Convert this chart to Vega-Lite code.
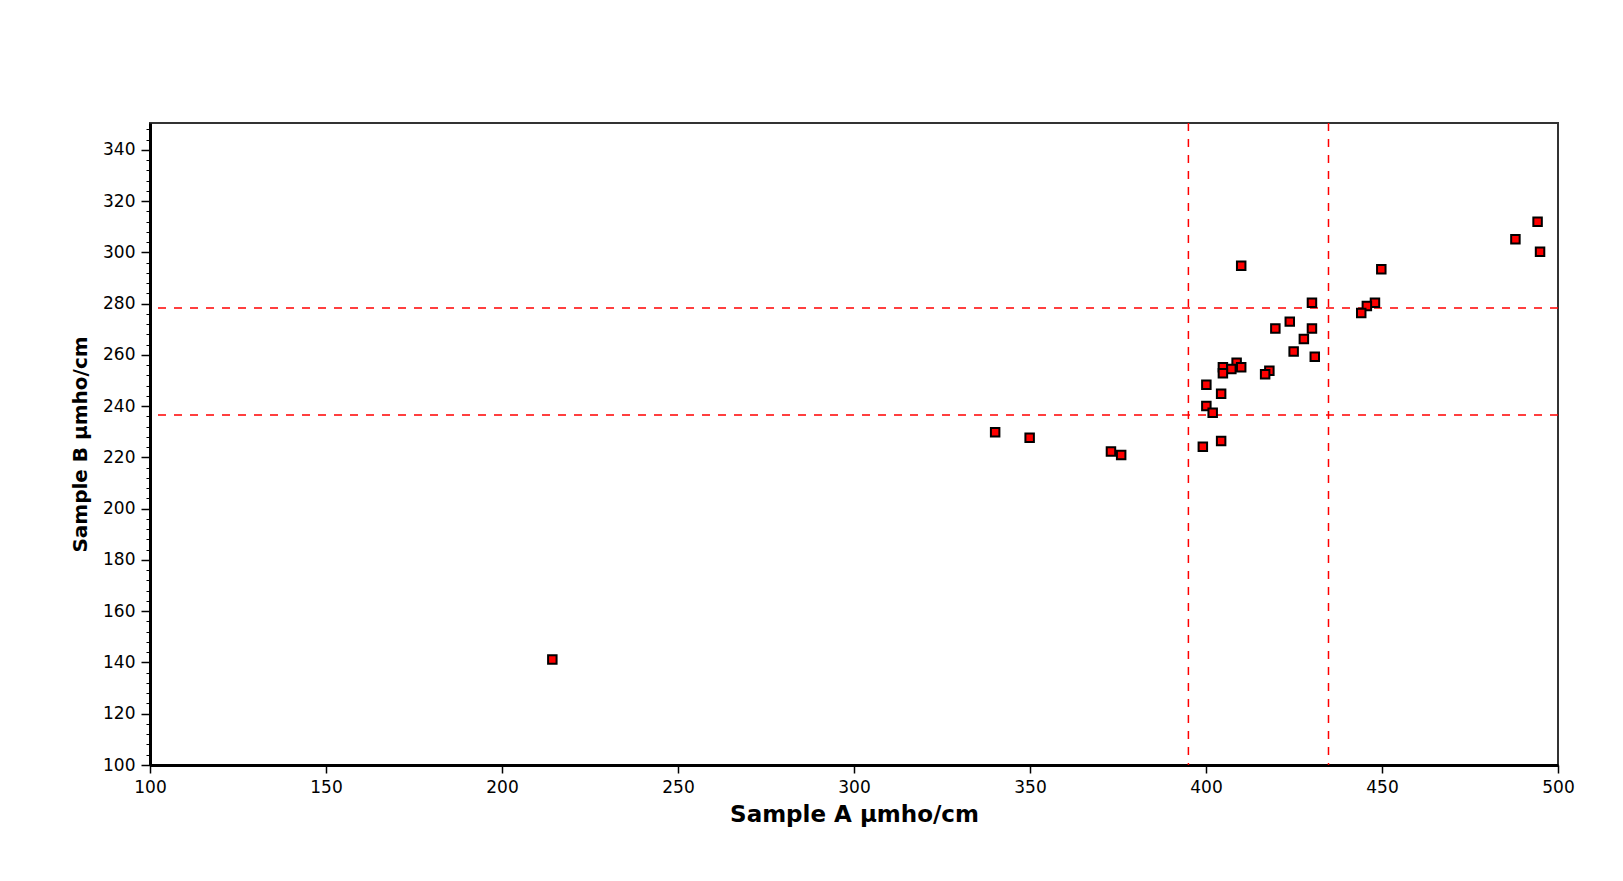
{
  "$schema": "https://vega.github.io/schema/vega-lite/v6.json",
  "width": 1408,
  "height": 642,
  "padding": {"left": 70, "top": 122, "right": 60, "bottom": 40},
  "background": "white",
  "config": {
    "view": {"stroke": "#333333", "strokeWidth": 2},
    "axis": {"grid": false, "labelColor": "#000000", "titleColor": "#000000", "tickColor": "#000000", "domainColor": "#000000"}
  },
  "datasets": {
    "points": [
      {"A": 410.0, "B": 294.8},
      {"A": 449.8, "B": 293.4},
      {"A": 430.1, "B": 280.4},
      {"A": 448.0, "B": 280.4},
      {"A": 445.7, "B": 279.1},
      {"A": 444.1, "B": 276.4},
      {"A": 423.8, "B": 273.0},
      {"A": 419.7, "B": 270.3},
      {"A": 430.1, "B": 270.3},
      {"A": 427.8, "B": 266.2},
      {"A": 424.9, "B": 261.3},
      {"A": 430.9, "B": 259.3},
      {"A": 408.7, "B": 257.0},
      {"A": 404.8, "B": 255.2},
      {"A": 410.0, "B": 255.2},
      {"A": 407.2, "B": 254.5},
      {"A": 404.8, "B": 252.9},
      {"A": 418.0, "B": 253.8},
      {"A": 416.8, "B": 252.5},
      {"A": 400.1, "B": 248.4},
      {"A": 404.3, "B": 244.9},
      {"A": 400.1, "B": 240.1},
      {"A": 401.9, "B": 237.4},
      {"A": 404.3, "B": 226.4},
      {"A": 399.1, "B": 224.2},
      {"A": 494.2, "B": 312.0},
      {"A": 487.9, "B": 305.1},
      {"A": 494.9, "B": 300.3},
      {"A": 340.1, "B": 229.8},
      {"A": 349.9, "B": 227.7},
      {"A": 373.0, "B": 222.3},
      {"A": 375.9, "B": 221.0},
      {"A": 214.3, "B": 141.2}
    ],
    "vlines": [{"A": 395.0}, {"A": 434.8}],
    "hlines": [{"B": 278.3}, {"B": 236.6}]
  },
  "layer": [
    {
      "data": {"name": "vlines"},
      "mark": {"type": "rule", "color": "#ff0000", "strokeDash": [8, 8], "strokeWidth": 1.5},
      "encoding": {
        "x": {
          "field": "A", "type": "quantitative",
          "scale": {"domain": [100, 500], "nice": false, "zero": false},
          "axis": {
            "orient": "bottom",
            "values": [100, 150, 200, 250, 300, 350, 400, 450, 500],
            "title": "Sample A µmho/cm",
            "titleFont": "DejaVu Sans", "titleFontSize": 23, "titleFontWeight": "bold", "titlePadding": 8,
            "labelFont": "DejaVu Sans", "labelFontSize": 17, "labelPadding": 6,
            "labelFlush": false, "labelOverlap": false,
            "tickSize": 8, "tickWidth": 1.5, "domainWidth": 3
          }
        }
      }
    },
    {
      "data": {"name": "hlines"},
      "mark": {"type": "rule", "color": "#ff0000", "strokeDash": [8, 8], "strokeWidth": 1.5},
      "encoding": {
        "y": {
          "field": "B", "type": "quantitative",
          "scale": {"domain": [100, 350.5], "nice": false, "zero": false},
          "axis": {
            "orient": "left",
            "values": [104, 108, 112, 116, 124, 128, 132, 136, 144, 148, 152, 156, 164, 168, 172, 176, 184, 188, 192, 196, 204, 208, 212, 216, 224, 228, 232, 236, 244, 248, 252, 256, 264, 268, 272, 276, 284, 288, 292, 296, 304, 308, 312, 316, 324, 328, 332, 336, 344, 348],
            "labels": false, "domain": false, "grid": false, "title": null,
            "tickSize": 4, "tickWidth": 1, "tickColor": "#000000"
          }
        }
      }
    },
    {
      "data": {"name": "points"},
      "mark": {"type": "square", "size": 72, "filled": true, "fill": "#ff0000", "stroke": "#000000", "strokeWidth": 2, "opacity": 1},
      "encoding": {
        "x": {
          "field": "A", "type": "quantitative",
          "scale": {"domain": [100, 500], "nice": false, "zero": false},
          "axis": {
            "orient": "bottom",
            "values": [100, 150, 200, 250, 300, 350, 400, 450, 500],
            "title": "Sample A µmho/cm",
            "titleFont": "DejaVu Sans", "titleFontSize": 23, "titleFontWeight": "bold", "titlePadding": 8,
            "labelFont": "DejaVu Sans", "labelFontSize": 17, "labelPadding": 6,
            "labelFlush": false, "labelOverlap": false,
            "tickSize": 8, "tickWidth": 1.5, "domainWidth": 3
          }
        },
        "y": {
          "field": "B", "type": "quantitative",
          "scale": {"domain": [100, 350.5], "nice": false, "zero": false},
          "axis": {
            "orient": "left",
            "values": [100, 120, 140, 160, 180, 200, 220, 240, 260, 280, 300, 320, 340],
            "title": "Sample B µmho/cm",
            "titleFont": "DejaVu Sans", "titleFontSize": 20, "titleFontWeight": "bold", "titlePadding": 12,
            "labelFont": "DejaVu Sans", "labelFontSize": 17, "labelPadding": 6,
            "labelFlush": false, "labelOverlap": false,
            "tickSize": 9, "tickWidth": 1.5, "domainWidth": 3
          }
        }
      }
    }
  ],
  "resolve": {"axis": {"y": "independent"}}
}
